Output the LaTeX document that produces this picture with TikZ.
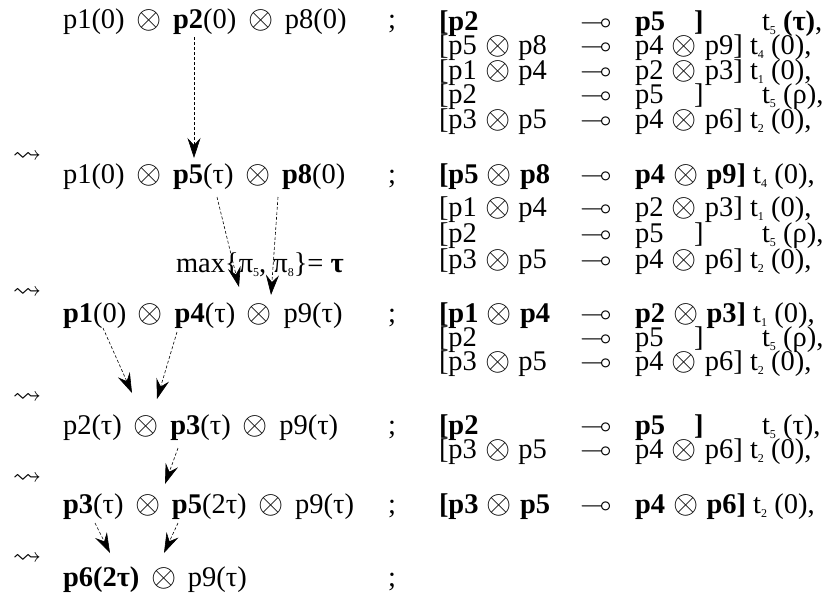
\documentclass[tikz,border=0pt]{standalone}
\usepackage{amssymb}
\usepackage{graphicx}
\usepackage{fontspec}
\setmainfont{Liberation Serif}
\usetikzlibrary{arrows.meta}

% tensor product sign, scaled up to the size of the letters
\newcommand{\bigot}{\raisebox{-0.8pt}{\scalebox{1.3}{$\otimes$}}}
% tensor product inside a rule, and the wider one of the markings
\newcommand{\tp}{\ \hspace{1pt}\bigot\hspace{1pt}\ }
\newcommand{\tpl}{\ \hspace{4.5pt}\bigot\hspace{4.5pt}\ }
% small lowered index, as in t_5 or \pi_8
\newcommand{\sbs}[1]{\raisebox{-4pt}{\fontsize{12}{12}\selectfont #1}}
% transition name with its index
\newcommand{\tn}[1]{t\sbs{#1}}
% one rule: left side, lollipop, right side
\newcommand{\ruleln}[2]{\makebox[141pt][l]{#1}\makebox[55pt][l]{$\multimap$}#2}
% right side of a one-place rule: place, closing bracket
\newcommand{\single}[2]{\makebox[59pt][l]{#1}\makebox[68pt][l]{#2}}

\begin{document}
\begin{tikzpicture}[x=1pt,y=-1pt,
  txt/.style={inner sep=0pt,outer sep=0pt,anchor=base west,
    font=\fontsize{28.5}{30}\selectfont},
  step arrow/.style={inner sep=0pt,outer sep=0pt,anchor=center,
    font=\fontsize{28.5}{30}\selectfont},
  flow/.style={dash pattern=on 3pt off 2pt,line width=0.6pt,
    -{Stealth[length=20pt,width=13pt,inset=7pt]}}]
\useasboundingbox (0,0) rectangle (832,600);

% ---------------- markings (left column) ----------------
\node[txt] (m1) at (63,28)  {p1(0)\tpl\textbf{p2}(0)\tpl p8(0)};
\node[txt] (m2) at (63,183) {p1(0)\tpl\textbf{p5}(τ)\tpl\textbf{p8}(0)};
\node[txt] (m3) at (63,322) {\textbf{p1}(0)\tpl\textbf{p4}(τ)\tpl p9(τ)};
\node[txt] (m4) at (63,434) {p2(τ)\tpl\textbf{p3}(τ)\tpl p9(τ)};
\node[txt] (m5) at (63,513) {\textbf{p3}(τ)\tpl\textbf{p5}(2τ)\tpl p9(τ)};
\node[txt] (m6) at (63,586) {\textbf{p6(2τ)}\tpl p9(τ)};

\node[txt] (s1) at (388,28)  {;};
\node[txt] (s2) at (388,183) {;};
\node[txt] (s3) at (388,322) {;};
\node[txt] (s4) at (388,434) {;};
\node[txt] (s5) at (388,513) {;};
\node[txt] (s6) at (388,586) {;};

% evolution steps
\node[step arrow] (e1) at (27,157) {$\leadsto$};
\node[step arrow] (e2) at (27,293) {$\leadsto$};
\node[step arrow] (e3) at (27,398) {$\leadsto$};
\node[step arrow] (e4) at (27,479) {$\leadsto$};
\node[step arrow] (e5) at (27,559) {$\leadsto$};

\node[txt] (mx) at (176,272) {max\{π\sbs{5}, π\sbs{8}\}= \textbf{τ}};

% ---------------- rules (right column) ----------------
% after the first marking
\node[txt] (r11) at (439,30)  {\ruleln{\bfseries[p2}{\single{\bfseries p5}{\bfseries ]}\tn{5} \textbf{(τ)},}};
\node[txt] (r12) at (439,54)  {\ruleln{[p5\tp p8}{p4\tp p9] \tn{4} (0),}};
\node[txt] (r13) at (439,79)  {\ruleln{[p1\tp p4}{p2\tp p3] \tn{1} (0),}};
\node[txt] (r14) at (439,103) {\ruleln{[p2}{\single{p5}{]}\tn{5} (ρ),}};
\node[txt] (r15) at (439,128) {\ruleln{[p3\tp p5}{p4\tp p6] \tn{2} (0),}};

% after the second marking
\node[txt] (r21) at (439,183) {\ruleln{\textbf{[p5}\tp\textbf{p8}}{\textbf{p4}\tp\textbf{p9]} \tn{4} (0),}};
\node[txt] (r22) at (439,216) {\ruleln{[p1\tp p4}{p2\tp p3] \tn{1} (0),}};
\node[txt] (r23) at (439,242) {\ruleln{[p2}{\single{p5}{]}\tn{5} (ρ),}};
\node[txt] (r24) at (439,268) {\ruleln{[p3\tp p5}{p4\tp p6] \tn{2} (0),}};

% after the third marking
\node[txt] (r31) at (439,322) {\ruleln{\textbf{[p1}\tp\textbf{p4}}{\textbf{p2}\tp\textbf{p3]} \tn{1} (0),}};
\node[txt] (r32) at (439,346) {\ruleln{[p2}{\single{p5}{]}\tn{5} (ρ),}};
\node[txt] (r33) at (439,370) {\ruleln{[p3\tp p5}{p4\tp p6] \tn{2} (0),}};

% after the fourth marking
\node[txt] (r41) at (439,434) {\ruleln{\bfseries[p2}{\single{\bfseries p5}{\bfseries ]}\tn{5} (τ),}};
\node[txt] (r42) at (439,458) {\ruleln{[p3\tp p5}{p4\tp p6] \tn{2} (0),}};

% after the fifth marking
\node[txt] (r51) at (439,513) {\ruleln{\textbf{[p3}\tp\textbf{p5}}{\textbf{p4}\tp\textbf{p6]} \tn{2} (0),}};

% ---------------- token flow ----------------
\coordinate (a1s) at (194,37);  \coordinate (a1e) at (194,158);
\coordinate (a2s) at (217,197); \coordinate (a2e) at (239,287);
\coordinate (a3s) at (278,197); \coordinate (a3e) at (271,295);
\coordinate (a4s) at (103,328); \coordinate (a4e) at (132,393);
\coordinate (a5s) at (177,332); \coordinate (a5e) at (157,399);
\coordinate (a6s) at (178,448); \coordinate (a6e) at (165,484);
\coordinate (a7s) at (95,523);  \coordinate (a7e) at (110,553);
\coordinate (a8s) at (178,523); \coordinate (a8e) at (164,553);

\draw[flow] (a1s) -- (a1e);
\draw[flow] (a2s) -- (a2e);
\draw[flow] (a3s) -- (a3e);
\draw[flow] (a4s) -- (a4e);
\draw[flow] (a5s) -- (a5e);
\draw[flow] (a6s) -- (a6e);
\draw[flow] (a7s) -- (a7e);
\draw[flow] (a8s) -- (a8e);
\end{tikzpicture}
\end{document}
